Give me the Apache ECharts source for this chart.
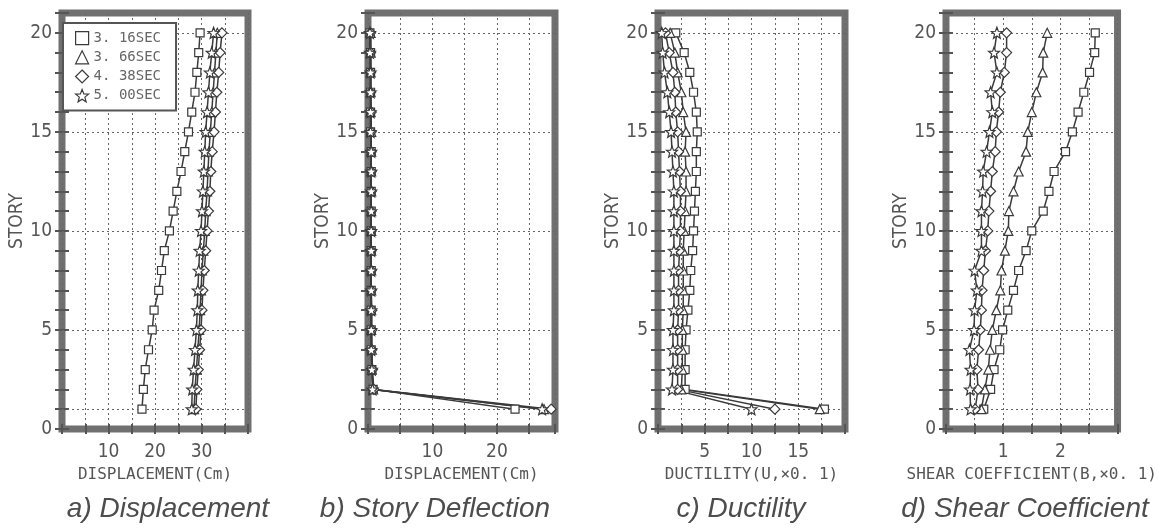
<!DOCTYPE html>
<html>
<head>
<meta charset="utf-8">
<script src="https://cdn.jsdelivr.net/npm/echarts@6/dist/echarts.min.js"></script>
<style>
html,body{margin:0;padding:0;background:#fff;}
#chart{width:1160px;height:532px;}
</style>
</head>
<body>
<div id="chart"></div>
<script>
// ---------- DATA ----------
const STORIES = [1,2,3,4,5,6,7,8,9,10,11,12,13,14,15,16,17,18,19,20];
const SERIES_NAMES = ['3. 16SEC','3. 66SEC','4. 38SEC','5. 00SEC'];

// a) Displacement (cm)
const DISP_316 = [17.2,17.5,17.9,18.6,19.4,19.8,20.8,21.4,22.0,23.1,23.9,24.7,25.6,26.4,27.2,27.9,28.6,29.0,29.4,29.7];
const DISP_366 = [28.4,28.6,28.9,29.2,29.5,29.7,29.9,30.1,30.4,30.7,30.9,31.2,31.4,31.6,31.9,32.2,32.5,32.8,33.1,33.4];
const DISP_438 = [28.8,29.0,29.3,29.6,29.9,30.1,30.3,30.6,30.9,31.2,31.5,31.8,32.0,32.3,32.7,33.0,33.3,33.7,34.0,34.4];
const DISP_500 = [27.9,28.0,28.3,28.6,28.9,29.1,29.2,29.4,29.6,29.9,30.1,30.3,30.5,30.7,30.9,31.2,31.5,31.8,32.2,32.6];

// b) Story deflection (cm)
const DEFL_316 = [22.8,0.8,0.6,0.5,0.5,0.5,0.5,0.5,0.5,0.5,0.5,0.5,0.5,0.5,0.4,0.4,0.4,0.4,0.4,0.3];
const DEFL_366 = [27.3,0.8,0.6,0.6,0.5,0.5,0.5,0.5,0.5,0.5,0.5,0.5,0.5,0.5,0.5,0.4,0.4,0.4,0.4,0.4];
const DEFL_438 = [28.4,0.9,0.7,0.6,0.6,0.6,0.5,0.5,0.5,0.5,0.5,0.5,0.5,0.5,0.5,0.5,0.4,0.4,0.4,0.4];
const DEFL_500 = [27.0,0.7,0.6,0.5,0.5,0.5,0.5,0.5,0.5,0.5,0.5,0.5,0.5,0.5,0.4,0.4,0.4,0.4,0.3,0.3];

// c) Ductility (x0.1)
const DUCT_316 = [17.8,2.9,2.9,2.9,3.0,3.2,3.4,3.5,3.7,3.8,3.9,4.0,4.1,4.1,4.2,4.1,3.8,3.4,2.8,1.9];
const DUCT_366 = [17.3,2.5,2.6,2.6,2.6,2.7,2.7,2.7,2.7,2.8,2.9,3.0,3.0,2.9,3.0,2.7,2.5,2.1,1.8,1.3];
const DUCT_438 = [12.5,2.1,2.1,2.1,2.1,2.2,2.2,2.2,2.3,2.4,2.4,2.4,2.3,2.2,2.1,1.9,1.8,1.6,1.2,0.8];
const DUCT_500 = [10.0,1.5,1.6,1.6,1.6,1.7,1.7,1.7,1.7,1.7,1.7,1.7,1.6,1.5,1.4,1.2,1.0,0.7,0.5,0.4];

// d) Shear coefficient (x0.1)
const SHEAR_316 = [0.66,0.78,0.84,0.94,0.99,1.08,1.18,1.27,1.40,1.50,1.70,1.80,1.89,2.09,2.21,2.31,2.41,2.51,2.60,2.61];
const SHEAR_366 = [0.62,0.68,0.74,0.77,0.81,0.88,0.95,0.97,1.03,1.09,1.10,1.18,1.27,1.40,1.43,1.50,1.58,1.69,1.70,1.77];
const SHEAR_438 = [0.51,0.56,0.54,0.57,0.60,0.62,0.63,0.66,0.69,0.73,0.75,0.78,0.81,0.86,0.88,0.92,0.95,1.02,1.06,1.06];
const SHEAR_500 = [0.43,0.42,0.43,0.41,0.49,0.50,0.54,0.50,0.62,0.62,0.62,0.64,0.65,0.71,0.76,0.81,0.78,0.89,0.84,0.89];

// tick labels
const Y_TICK_LABELS = [0,5,10,15,20];
const Y_GRID_LINES = [1,5,10,15,20];
const A_TICK_LABELS = [10,20,30];
const B_TICK_LABELS = [10,20];
const C_TICK_LABELS = [5,10,15];
const D_TICK_LABELS = [1,2];

const X_NAMES = ['DISPLACEMENT(Cm)','DISPLACEMENT(Cm)','DUCTILITY(U,×0. 1)','SHEAR COEFFICIENT(B,×0. 1)'];
const CAPTIONS = ['a) Displacement','b) Story Deflection','c) Ductility','d) Shear Coefficient'];

// ---------- STYLE / LAYOUT ----------
const STAR = 'path://M12,1 L14.9,8.6 L23,9 L16.7,14.1 L18.8,22 L12,17.6 L5.2,22 L7.3,14.1 L1,9 L9.1,8.6 Z';
const SYMBOLS = ['rect','triangle','diamond',STAR];
const SYMBOL_SIZES = [8,9,10,11];
const INK = '#3a3a3a';
const MONO = 'DejaVu Sans Mono';
const NARROW = '"DejaVu Sans Condensed", "DejaVu Sans", sans-serif';

const panels = [
  {grid:{left:62, top:13, width:186, height:416}, xmax:40, xint:5, labels:A_TICK_LABELS,
   data:[DISP_316,DISP_366,DISP_438,DISP_500], cap:163},
  {grid:{left:368, top:13, width:187, height:416}, xmax:29, xint:5, labels:B_TICK_LABELS,
   data:[DEFL_316,DEFL_366,DEFL_438,DEFL_500], cap:430},
  {grid:{left:658, top:13, width:187, height:416}, xmax:20, xint:2.5, labels:C_TICK_LABELS,
   data:[DUCT_316,DUCT_366,DUCT_438,DUCT_500], cap:736},
  {grid:{left:946, top:13, width:188, height:416}, xmax:3, xint:0.5, labels:D_TICK_LABELS,
   data:[SHEAR_316,SHEAR_366,SHEAR_438,SHEAR_500], cap:1020}
];

const grids = [], xAxes = [], yAxes = [], series = [], titles = [];

panels.forEach((p, pi) => {
  grids.push(Object.assign({show:true, borderColor:'#707070', borderWidth:7, backgroundColor:'#fff'}, p.grid));
  const tick = {show:true, inside:true, length:5, lineStyle:{color:'#555', width:2}};
  xAxes.push({
    type:'value', gridIndex:pi, position:'bottom', min:0, max:p.xmax, interval:p.xint,
    axisLine:{show:false}, axisTick:tick,
    splitLine:{show:true, lineStyle:{color:'#666', width:1, type:[2,3]}},
    axisLabel:{show:true, margin:14, fontFamily:NARROW, fontSize:19, color:'#555',
      formatter:(v)=> p.labels.includes(v) ? String(v) : ''},
    name:X_NAMES[pi], nameLocation:'middle', nameGap:38,
    nameTextStyle:{fontFamily:MONO, fontSize:16, color:'#555'}
  });
  xAxes.push({
    type:'value', gridIndex:pi, position:'top', min:0, max:p.xmax, interval:p.xint,
    axisLine:{show:false}, axisTick:tick, splitLine:{show:false}, axisLabel:{show:false}
  });
  const ytick = {show:true, inside:true, length:7, lineStyle:{color:'#555', width:2}};
  yAxes.push({
    type:'value', gridIndex:pi, position:'left', min:0, max:21, interval:1,
    axisLine:{show:false}, axisTick:ytick, splitLine:{show:false},
    axisLabel:{show:true, margin:10, fontFamily:NARROW, fontSize:19, color:'#555',
      formatter:(v)=> Y_TICK_LABELS.includes(v) ? String(v) : ''},
    name:'STORY', nameLocation:'middle', nameGap:34,
    nameTextStyle:{fontFamily:NARROW, fontSize:19, color:'#555'}
  });
  yAxes.push({
    type:'value', gridIndex:pi, position:'right', min:0, max:21, interval:1,
    axisLine:{show:false}, axisTick:ytick, splitLine:{show:false}, axisLabel:{show:false}
  });
  p.data.forEach((vals, si) => {
    const s = {
      type:'line', name:SERIES_NAMES[si], xAxisIndex:2*pi, yAxisIndex:2*pi,
      data: STORIES.map((st, i) => [vals[i], st]),
      symbol:SYMBOLS[si], symbolSize:SYMBOL_SIZES[si], showAllSymbol:true,
      lineStyle:{color:INK, width:1.5},
      itemStyle:{color:'#fff', borderColor:INK, borderWidth:1.2},
      emphasis:{disabled:true}, z:3
    };
    if (si === 0) {
      s.markLine = {
        silent:true, symbol:'none', z:1, animation:false,
        label:{show:false},
        lineStyle:{color:'#666', width:1, type:[2,3]},
        data: Y_GRID_LINES.map(v => ({yAxis:v}))
      };
    }
    series.push(s);
  });
  titles.push({
    text:CAPTIONS[pi], left:p.cap, top:490, textAlign:'center',
    textStyle:{fontFamily:'Liberation Sans', fontStyle:'italic', fontWeight:'normal', fontSize:28, color:'#4d4d4d'}
  });
});

const chart = echarts.init(document.getElementById('chart'), null, {renderer:'canvas'});
chart.setOption({
  animation:false,
  backgroundColor:'#fff',
  title:titles,
  legend:{
    show:true, left:63, top:23, orient:'vertical',
    padding:[8,15,8,12], itemWidth:13, itemHeight:13, itemGap:5,
    borderColor:'#555', borderWidth:2, backgroundColor:'#fff',
    selectedMode:false,
    textStyle:{fontFamily:MONO, fontSize:14, color:'#666'},
    itemStyle:{color:'#fff', borderColor:INK, borderWidth:1.2},
    data: SERIES_NAMES.map((n,i)=>({name:n, icon:SYMBOLS[i]}))
  },
  grid:grids, xAxis:xAxes, yAxis:yAxes, series:series
});
</script>
</body>
</html>
